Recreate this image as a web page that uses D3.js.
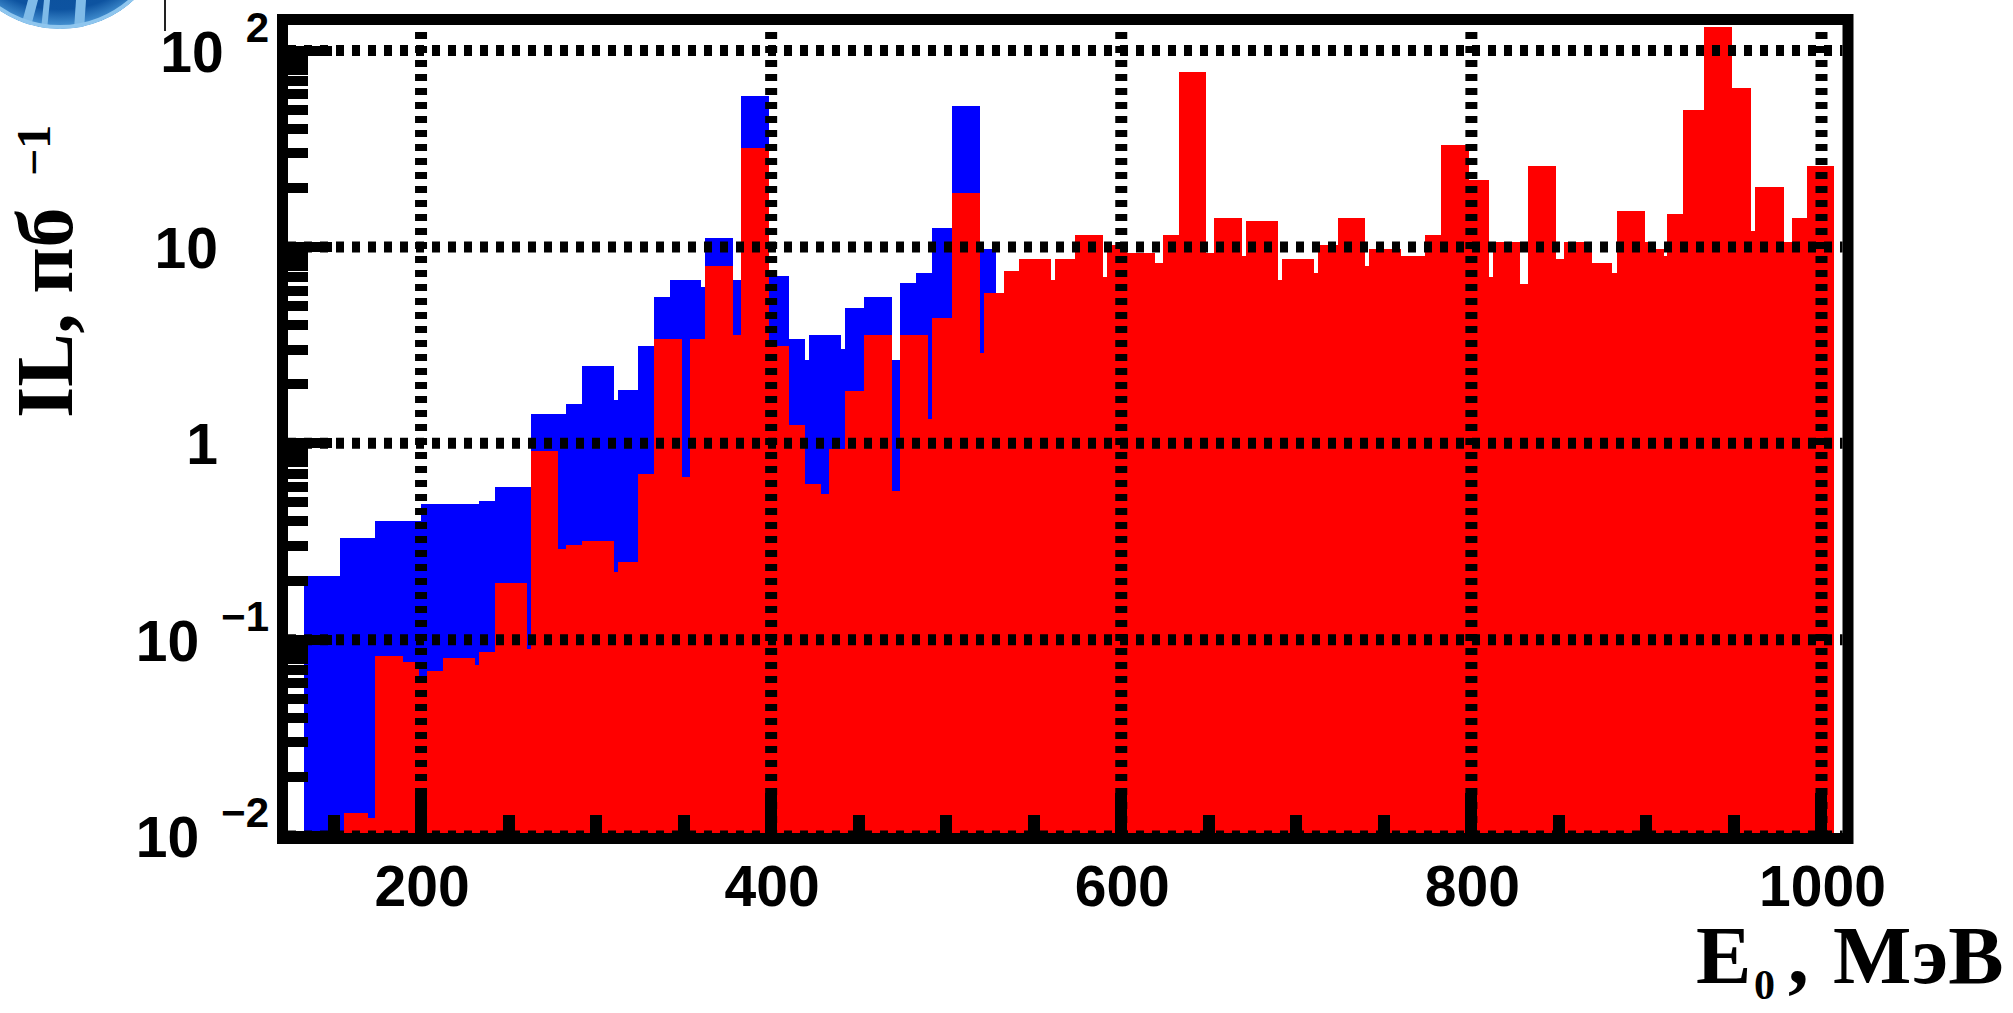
<!DOCTYPE html>
<html>
<head>
<meta charset="utf-8">
<script src="https://cdn.jsdelivr.net/npm/d3@7"></script>
<style>
  html, body { margin: 0; padding: 0; background: #ffffff; }
  svg { display: block; }
</style>
</head>
<body>
<svg id="chart" width="2013" height="1013"></svg>
<script>
// Integrated luminosity per beam-energy bin, pb^-1.
// Blue histogram: bin edges (MeV) and bin contents.
const blueEdges = [133.1, 153.7, 173.7, 200.0, 233.1, 242.3, 262.9, 282.9, 292.0, 310.3,
  312.6, 324.0, 333.1, 342.3, 360.0, 362.3, 378.3, 382.9, 398.9, 410.3,
  419.4, 421.7, 440.0, 442.3, 453.1, 469.1, 473.7, 482.9, 492.0, 503.4,
  519.4, 528.6];
const blueValues = [0.21, 0.33, 0.40, 0.49, 0.51, 0.60, 1.41, 1.58, 2.47, 1.67,
  1.86, 3.14, 5.57, 6.8, 6.27, 11.1, 6.8, 58.9, 7.13, 3.41,
  2.67, 3.57, 3.03, 4.9, 5.57, 2.67, 6.57, 7.4, 12.5, 52.3,
  9.8];

// Red histogram: bin edges (MeV) and bin contents.
const redEdges = [156.0, 169.7, 173.7, 189.7, 198.9, 203.4, 212.6, 230.9, 233.1, 242.3,
  260.6, 262.9, 278.3, 282.9, 292.0, 310.3, 312.6, 324.0, 333.1, 349.1,
  353.7, 362.3, 378.3, 382.9, 398.9, 410.3, 419.4, 428.6, 433.1, 442.3,
  453.1, 469.1, 473.7, 489.7, 492.0, 503.4, 519.4, 521.7, 533.1, 541.7,
  560.0, 562.3, 573.7, 589.7, 592.0, 603.4, 619.4, 624.0, 633.1, 648.6,
  653.1, 669.1, 671.4, 689.7, 692.0, 710.3, 712.6, 724.0, 739.4, 741.7,
  760.0, 773.7, 782.9, 798.9, 810.3, 812.6, 828.0, 832.6, 848.6, 853.1,
  869.1, 880.6, 882.9, 898.9, 903.4, 910.3, 912.0, 921.1, 932.6, 948.6,
  960.0, 962.3, 978.3, 982.9, 992.0, 1007.4];
const redValues = [0.0131, 0.0124, 0.083, 0.077, 0.064, 0.069, 0.081, 0.074, 0.087, 0.195,
  0.09, 0.91, 0.29, 0.305, 0.318, 0.22, 0.249, 0.70, 3.41, 0.67,
  3.41, 8.0, 3.57, 31.9, 3.14, 1.24, 0.62, 0.55, 0.93, 1.85,
  3.57, 0.574, 3.57, 1.33, 4.37, 18.8, 2.89, 5.8, 7.5, 8.73,
  6.82, 8.73, 11.55, 7.0, 10.2, 9.35, 8.3, 11.55, 77.8, 9.35,
  14.1, 9.03, 13.6, 6.82, 8.73, 7.4, 10.2, 14.1, 8.04, 9.8,
  9.03, 11.55, 33.1, 22.0, 7.0, 10.6, 6.5, 25.9, 8.73, 10.6,
  8.3, 7.4, 15.3, 10.6, 9.8, 9.03, 14.8, 49.9, 132, 64.3,
  12.0, 20.3, 10.6, 14.1, 25.9];

// Axis ticks and labels
const xTickLabels = [200, 400, 600, 800, 1000];
const xMidTicks = [150, 250, 300, 350, 450, 500, 550, 650, 700, 750, 850, 900, 950];
const yDecades = [0.01, 0.1, 1, 10, 100];
const yLabelBase = ["10", "10", "1", "10", "10"];
const yLabelExp = ["\u22122", "\u22121", "", "", "2"];

const svg = d3.select("#chart");

const x = d3.scaleLinear().domain([124, 1012]).range([288, 1842.5]);
const y = d3.scaleLog().domain([0.01, 135]).range([836, 25]);
const yFloor = 840;

const defs = svg.append("defs");
defs.append("clipPath").attr("id", "plotClip")
  .append("rect")
  .attr("x", x.range()[0]).attr("y", y.range()[1])
  .attr("width", x.range()[1] - x.range()[0])
  .attr("height", yFloor - y.range()[1]);

// Logo fragment in the top-left corner
const logoClip = defs.append("clipPath").attr("id", "logoClip");
logoClip.append("circle").attr("cx", 60).attr("cy", -80).attr("r", 109);
const grad = defs.append("radialGradient").attr("id", "logoGrad")
  .attr("cx", "50%").attr("cy", "40%").attr("r", "60%");
grad.append("stop").attr("offset", "0%").attr("stop-color", "#0a4a92");
grad.append("stop").attr("offset", "85%").attr("stop-color", "#0d53a0");
grad.append("stop").attr("offset", "100%").attr("stop-color", "#4f9ddb");
const logo = svg.append("g").attr("clip-path", "url(#logoClip)");
logo.append("circle").attr("cx", 60).attr("cy", -80).attr("r", 109).attr("fill", "url(#logoGrad)");
const stripes = [[[28, 0], [38, 0], [30, 30], [20, 30]],
                 [[44, 0], [50, 0], [47, 30], [41, 30]],
                 [[76, 0], [86, 0], [84, 30], [74, 30]]];
stripes.forEach(p => logo.append("polygon")
  .attr("points", p.map(q => q.join(",")).join(" "))
  .attr("fill", "#7fbbe8"));
logo.append("circle").attr("cx", 60).attr("cy", -80).attr("r", 107)
  .attr("fill", "none").attr("stroke", "#8fc6ee").attr("stroke-width", 4);
svg.append("line").attr("x1", 165).attr("x2", 165).attr("y1", 0).attr("y2", 31)
  .attr("stroke", "#222").attr("stroke-width", 2);

// Histograms
function stepPath(edges, values) {
  const pts = values.map((v, i) => [edges[i], v]);
  pts.push([edges[edges.length - 1], values[values.length - 1]]);
  return d3.area()
    .x(d => x(d[0]))
    .y0(yFloor)
    .y1(d => y(d[1]))
    .curve(d3.curveStepAfter)(pts);
}

const plot = svg.append("g").attr("clip-path", "url(#plotClip)");
plot.append("path").attr("d", stepPath(blueEdges, blueValues))
  .attr("fill", "#0000ff").attr("shape-rendering", "crispEdges");
plot.append("path").attr("d", stepPath(redEdges, redValues))
  .attr("fill", "#ff0000").attr("shape-rendering", "crispEdges");

// Dotted grid
const grid = svg.append("g").attr("stroke", "#000").attr("fill", "none");
grid.selectAll("line.h").data(yDecades).join("line")
  .attr("x1", x.range()[0]).attr("x2", x.range()[1])
  .attr("y1", d => y(d)).attr("y2", d => y(d))
  .attr("stroke-width", 11)
  .attr("stroke-dasharray", "8,8");
grid.selectAll("line.v").data(xTickLabels).join("line")
  .attr("x1", d => x(d)).attr("x2", d => x(d))
  .attr("y1", y.range()[1]).attr("y2", yFloor - 4)
  .attr("stroke-width", 12)
  .attr("stroke-dasharray", "7,7")
  .attr("stroke-dashoffset", 7);

// Ticks
const ticks = svg.append("g").attr("stroke", "#000").attr("shape-rendering", "crispEdges");
const axisX = 282.5;
const minorY = [];
[-2, -1, 0, 1].forEach(n => { for (let k = 2; k <= 9; k++) minorY.push(k * Math.pow(10, n)); });
ticks.selectAll("line.ymin").data(minorY).join("line")
  .attr("x1", axisX).attr("x2", 308)
  .attr("y1", d => y(d)).attr("y2", d => y(d))
  .attr("stroke-width", 10);
ticks.selectAll("line.ymaj").data(yDecades).join("line")
  .attr("x1", axisX).attr("x2", 332)
  .attr("y1", d => y(d)).attr("y2", d => y(d))
  .attr("stroke-width", 10);
const axisY = 838.5;
ticks.selectAll("line.xmid").data(xMidTicks).join("line")
  .attr("x1", d => x(d)).attr("x2", d => x(d))
  .attr("y1", axisY).attr("y2", 815)
  .attr("stroke-width", 12);
ticks.selectAll("line.xmaj").data(xTickLabels).join("line")
  .attr("x1", d => x(d)).attr("x2", d => x(d))
  .attr("y1", axisY).attr("y2", 793)
  .attr("stroke-width", 12);

// Frame
svg.append("rect")
  .attr("x", 282.5).attr("y", 19.5)
  .attr("width", 1848 - 282.5).attr("height", 838.5 - 19.5)
  .attr("fill", "none").attr("stroke", "#000").attr("stroke-width", 11);

// X tick labels
const labelFont = "'Liberation Sans', Arial, sans-serif";
svg.append("g").selectAll("text").data(xTickLabels).join("text")
  .attr("x", d => x(d) + 1).attr("y", 906)
  .attr("text-anchor", "middle")
  .attr("font-family", labelFont).attr("font-weight", "bold").attr("font-size", 57)
  .attr("fill", "#000")
  .text(d => d);

// Y tick labels with superscript exponents
const yl = svg.append("g").attr("font-family", labelFont).attr("font-weight", "bold").attr("fill", "#000");
yDecades.forEach((v, i) => {
  const yc = y(v);
  const expText = yLabelExp[i];
  let baseEnd = 218;
  if (expText) {
    const e = yl.append("text")
      .attr("x", 269).attr("y", yc - 9)
      .attr("text-anchor", "end").attr("font-size", 42)
      .text(expText);
    const bb = e.node().getBBox();
    baseEnd = bb.x - 22;
  }
  yl.append("text")
    .attr("x", baseEnd).attr("y", yc + 21)
    .attr("text-anchor", "end").attr("font-size", 57)
    .text(yLabelBase[i]);
});

// Axis titles
const titleFont = "'Liberation Serif', 'Times New Roman', serif";
const xt = svg.append("text")
  .attr("font-family", titleFont).attr("font-weight", "bold").attr("fill", "#000")
  .attr("y", 983).attr("font-size", 83);
xt.append("tspan").attr("x", 1696).text("E");
xt.append("tspan").attr("x", 1754).attr("y", 999).attr("font-size", 42).text("0");
xt.append("tspan").attr("x", 1788).attr("y", 983).text(",");
xt.append("tspan").attr("x", 1833).text("МэВ");

svg.append("text")
  .attr("transform", "translate(72,418) rotate(-90)")
  .attr("font-family", titleFont).attr("font-weight", "bold").attr("font-size", 80)
  .attr("fill", "#000")
  .text("IL, пб");
svg.append("text")
  .attr("transform", "translate(50,176) rotate(-90)")
  .attr("font-family", titleFont).attr("font-weight", "bold").attr("font-size", 48)
  .attr("fill", "#000")
  .text("\u22121");
</script>
</body>
</html>
